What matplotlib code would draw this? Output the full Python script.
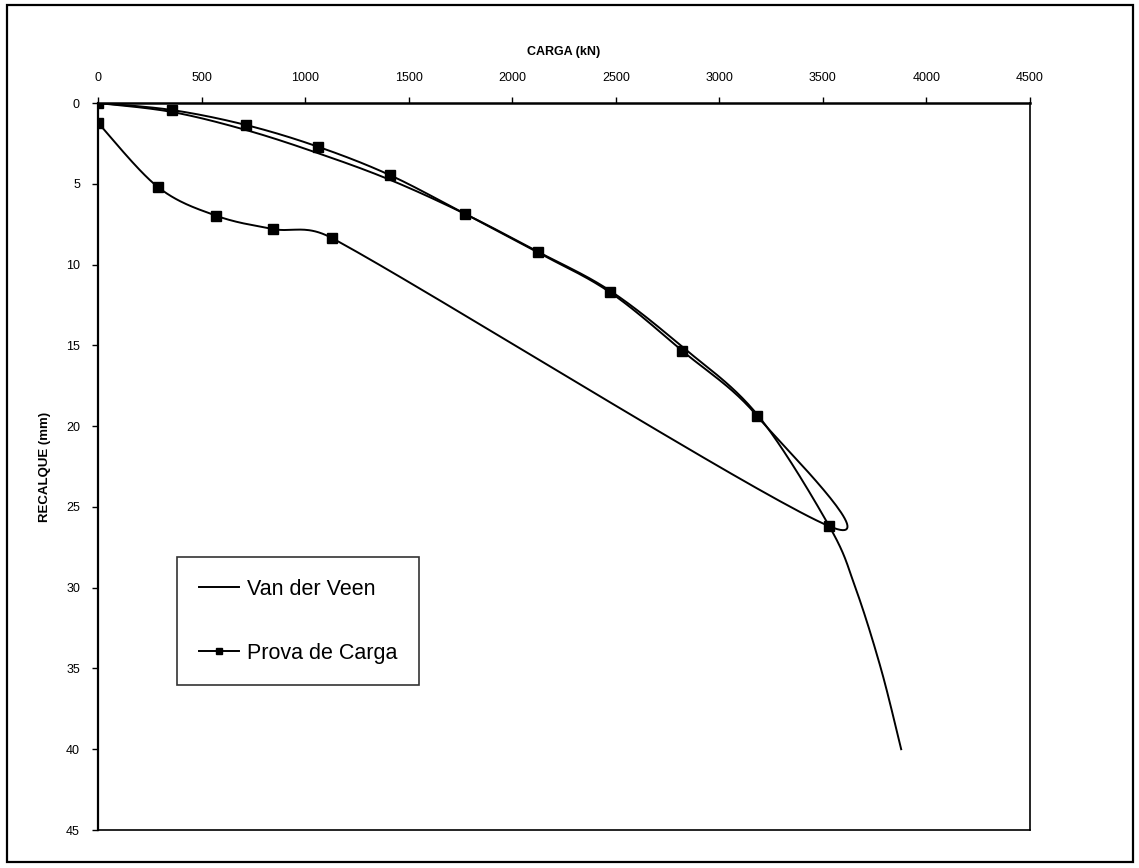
import numpy as np
import matplotlib
matplotlib.use("Agg")
import matplotlib.pyplot as plt
from matplotlib.patches import Rectangle

plt.rcParams['font.family'] = ['Liberation Sans', 'DejaVu Sans']

# Axis ticks
carga_ticks = [0, 500, 1000, 1500, 2000, 2500, 3000, 3500, 4000, 4500]
recalque_ticks = [0, 5, 10, 15, 20, 25, 30, 35, 40, 45]

# Load test (loading branch followed by unloading branch)
prova_carga = [0, 355, 714, 1061, 1409, 1770, 2123, 2470, 2822, 3184, 3531,
               1128, 844, 569, 289, 0]
prova_recalque = [0.00, 0.43, 1.36, 2.70, 4.46, 6.85, 9.25, 11.70, 15.35, 19.40, 26.20,
                  8.35, 7.80, 6.97, 5.20, 1.22]

# Van der Veen fitted curve
vdv_carga = [0, 355, 714, 1061, 1409, 1770, 2123, 2470, 2822, 3184, 3531,
             3657, 3780, 3878]
vdv_recalque = [0.00, 0.55, 1.67, 3.10, 4.75, 6.85, 9.20, 11.60, 15.10, 19.30, 26.20,
                30.00, 35.00, 40.00]

W, H = 1139, 868
fig = plt.figure(figsize=(W / 100, H / 100), dpi=100)
fig.patch.set_facecolor('white')

left, right, top, bottom = 98, 1030, 103, 830
ax = fig.add_axes([left / W, 1 - bottom / H, (right - left) / W, (bottom - top) / H])
ax.set_xlim(0, 4500)
ax.set_ylim(45, 0)


def smooth_line(ax, xs, ys, n=40, limit=0.5):
    """Spreadsheet-style smoothed line: cubic Bezier segments in screen space.

    Control handles follow the neighbouring points (1/6 of the chord) and are
    capped at a fraction of the segment length to avoid hooks on short segments.
    """
    pts = ax.transData.transform(np.column_stack([xs, ys]))
    m = len(pts)
    out = [pts[0]]
    t = np.linspace(0, 1, n)[1:, None]

    def cap(v, seg_len):
        ln = np.hypot(*v)
        mx = limit * seg_len
        return v * (mx / ln) if ln > mx and ln > 0 else v

    for i in range(m - 1):
        p0 = pts[max(i - 1, 0)]
        p1 = pts[i]
        p2 = pts[i + 1]
        p3 = pts[min(i + 2, m - 1)]
        seg_len = np.hypot(*(p2 - p1))
        c1 = p1 + cap((p2 - p0) / 6.0, seg_len)
        c2 = p2 - cap((p3 - p1) / 6.0, seg_len)
        seg = ((1 - t) ** 3 * p1 + 3 * (1 - t) ** 2 * t * c1
               + 3 * (1 - t) * t ** 2 * c2 + t ** 3 * p2)
        out.extend(seg)
    data = ax.transData.inverted().transform(np.array(out))
    return data[:, 0], data[:, 1]


vx, vy = smooth_line(ax, vdv_carga, vdv_recalque)
ax.plot(vx, vy, color='black', lw=1.4, label='Van der Veen', solid_joinstyle='round')

px, py = smooth_line(ax, prova_carga, prova_recalque)
ax.plot(px, py, color='black', lw=1.4, solid_joinstyle='round')
ax.plot(prova_carga, prova_recalque, linestyle='none', marker='s', ms=6.5,
        color='black')
# legend proxy for the load-test series (line + marker)
ax.plot([], [], color='black', lw=1.4, marker='s', ms=5, label='Prova de Carga')

ax.xaxis.tick_top()
ax.xaxis.set_label_position('top')
ax.set_xticks(carga_ticks)
ax.set_yticks(recalque_ticks)
ax.set_xticklabels([str(v) for v in carga_ticks])
ax.set_yticklabels([str(v) for v in recalque_ticks])
ax.tick_params(direction='out', length=4, width=1, labelsize=9, colors='black')
ax.tick_params(axis='x', pad=10)
ax.tick_params(axis='y', pad=9)

ax.set_xlabel('CARGA (kN)', fontsize=9, fontweight='bold', labelpad=12)
ax.set_ylabel('RECALQUE (mm)', fontsize=9.5, fontweight='bold', labelpad=11)

for sp in ax.spines.values():
    sp.set_linewidth(1.2)
    sp.set_color('black')
ax.spines['top'].set_linewidth(1.8)
ax.spines['left'].set_linewidth(1.6)

handles, labels = ax.get_legend_handles_labels()
leg = ax.legend(handles, labels, loc='upper left',
                bbox_to_anchor=(177 / W, 1 - 557 / H), bbox_transform=fig.transFigure,
                fontsize=15.5, frameon=True, fancybox=False, borderpad=1.0,
                handlelength=1.9, handletextpad=0.35, labelspacing=2.0,
                borderaxespad=0)
leg.get_frame().set_edgecolor('black')
leg.get_frame().set_linewidth(1.2)

# outer chart-area border
fig.add_artist(Rectangle((7 / W, 1 - 862 / H), (1133 - 7) / W, (862 - 5) / H,
                         transform=fig.transFigure, fill=False,
                         edgecolor='black', linewidth=1.6))

fig.savefig('out.png', dpi=100, facecolor='white')
